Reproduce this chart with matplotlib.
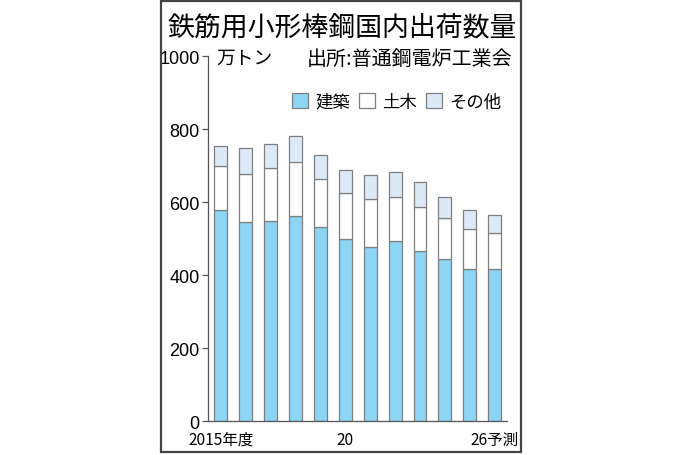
import numpy as np
import matplotlib.pyplot as plt
from matplotlib.patches import Rectangle

plt.rcParams['font.family'] = ['Noto Sans CJK JP', 'DejaVu Sans']

# 年度ラベル (2015年度〜2026年度予測)
years = ['2015年度', '', '', '', '', '20', '', '', '', '', '', '26予測']
# 万トン
kenchiku = [579, 547, 548, 563, 533, 499, 479, 493, 467, 444, 416, 416]
doboku = [121, 132, 145, 147, 131, 128, 129, 122, 119, 112, 110, 99]
sonota = [55, 69, 67, 71, 65, 63, 67, 69, 70, 60, 53, 51]

fig = plt.figure(figsize=(6.84, 4.56), dpi=100)
ax = fig.add_axes([0.304, 0.074, 0.437, 0.800])

x = np.arange(len(years))
edge = '#7f7f7f'
w = 0.52
ax.bar(x, kenchiku, w, color='#8cd5f5', edgecolor=edge, linewidth=0.9, label='建築')
ax.bar(x, doboku, w, bottom=kenchiku, color='#fdfeff', edgecolor=edge,
       linewidth=0.9, label='土木')
bottom2 = np.array(kenchiku) + np.array(doboku)
ax.bar(x, sonota, w, bottom=bottom2, color='#dceaf7', edgecolor=edge,
       linewidth=0.9, label='その他')

ax.set_xlim(-0.52, 11.49)
ax.set_ylim(0, 1000)
ax.set_yticks([0, 200, 400, 600, 800, 1000])
ax.set_yticklabels(['0', '200', '400', '600', '800', '1000'],
                   family=['Liberation Sans', 'DejaVu Sans'], fontsize=13)
ax.set_xticks(x)
ax.set_xticklabels(years, fontsize=11.2)
ax.tick_params(axis='x', length=0, pad=7)
ax.tick_params(axis='y', length=4, width=0.9, color='#555555', pad=2)
for s in ['top', 'right']:
    ax.spines[s].set_visible(False)
for s in ['left', 'bottom']:
    ax.spines[s].set_color('#555555')
    ax.spines[s].set_linewidth(0.9)

ax.legend(loc='center left', bbox_to_anchor=(0.414, 0.775), bbox_transform=fig.transFigure,
          ncol=3, frameon=False, fontsize=12.5, handlelength=0.95, handleheight=0.95,
          handletextpad=0.4, columnspacing=0.5, borderpad=0)

fig.text(0.2442, 0.938, '鉄筋用小形棒鋼国内出荷数量', fontsize=19.4, va='center', ha='left')
fig.text(0.317, 0.872, '万トン', fontsize=13.5, va='center', ha='left')
fig.text(0.4485, 0.870, '出所:普通鋼電炉工業会', fontsize=14.4, va='center', ha='left')

fig.patches.append(Rectangle((161 / 684, 1 - 453 / 456), 360 / 684, 451 / 456,
                             transform=fig.transFigure, fill=False,
                             edgecolor='#444444', linewidth=1.6))

fig.savefig('out.png', dpi=100)
